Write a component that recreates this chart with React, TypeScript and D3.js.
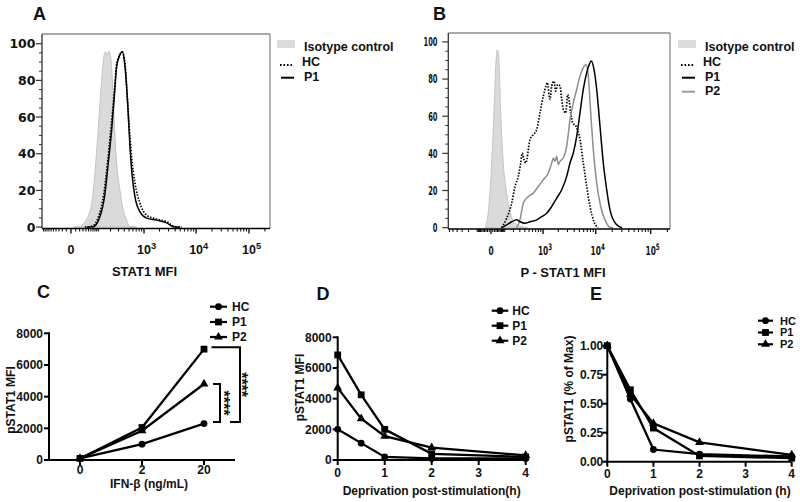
import React from "react";
import * as d3 from "d3";

const ARIAL = "'Liberation Sans', Arial, Helvetica, sans-serif";
const DEJA = "'DejaVu Sans', 'Liberation Sans', sans-serif";

// ---------- Panel A: STAT1 histograms (MFI value, % of max) ----------
const aIsoMfi = [5, 16, 36, 64, 80, 99, 122, 142, 156, 168, 184, 205, 224, 243, 274, 323, 380, 447, 523, 715];
const aIsoCnt = [0, 0, 2.7, 13, 29.5, 53, 80, 94, 95.6, 94, 96, 91, 76.5, 57, 35, 20, 9.3, 3.8, 0.2, 0];
const aHCMfi = [36.5, 65, 104, 140, 170, 205, 240, 272, 308, 362, 413, 483, 566, 661, 832, 1128, 1766, 2751, 3967, 5320];
const aHCCnt = [0, 0.5, 6.5, 19, 35, 54, 72, 88, 93, 95.5, 89, 62, 38, 24, 13, 6.5, 4.4, 2.9, 0.2, 0];
const aP1Mfi = [43, 71, 110, 148, 177, 212, 243, 274, 312, 362, 413, 469, 523, 583, 661, 832, 1128, 1766, 2751, 3680, 4940];
const aP1Cnt = [0, 0.2, 5.6, 18.5, 35, 53, 71, 87.5, 93, 95.6, 87.5, 67.6, 43.8, 27.4, 16.5, 8.3, 4.9, 3.8, 2.3, 0.2, 0];

// ---------- Panel B: P-STAT1 histograms ----------
const bIsoMfi = [-35, -14, 4, 17, 30, 39, 51, 64, 86, 119, 156, 222, 335, 474];
const bIsoCnt = [0, 9.6, 34.8, 62, 88.9, 95.7, 88.9, 61.8, 34.8, 18.6, 8.6, 2.4, 0.6, 0];
const bHCMfi = [72, 119, 177, 222, 273, 316, 346, 381, 419, 526, 623, 737, 865, 1011, 1147, 1218, 1378, 1489, 1651, 1783,
  1948, 2158, 2326, 2495, 2771, 3023, 3240, 3443, 3753, 4324, 5130, 5908, 6826, 7852, 9300, 11140];
const bHCCnt = [0, 5.1, 13.2, 22.2, 27.6, 34.8, 40.2, 36.6, 34.8, 47.4, 50.1, 52.8, 61.8, 70.8, 76.2, 78.1, 69, 76.2, 78.9, 73.5,
  77.1, 76.2, 69, 63.6, 61.8, 71.7, 68.1, 61.8, 56.4, 54.6, 47.4, 34.8, 22.2, 11.4, 3.2, 0];
const bP2Mfi = [247, 303, 367, 481, 623, 797, 1011, 1275, 1489, 1601, 1727, 1864, 2001, 2158, 2495, 2894, 3340, 3851, 4456, 5130,
  5908, 6627, 7308, 8090, 9030, 10420, 12330, 14780, 18230, 20950];
const bP2Cnt = [0, 4.2, 13.2, 16.8, 18.6, 22.2, 25.8, 29.4, 34.8, 37.5, 35.7, 38.4, 33.9, 35.7, 37.5, 43.8, 58.2, 67.2, 74.4, 81.6,
  86.2, 87.9, 81.6, 61.8, 42, 24, 11.4, 4.2, 0.2, 0];
const bP1Mfi = [72, 119, 177, 247, 303, 403, 526, 737, 938, 1184, 1489, 1864, 2326, 2894, 3340, 3851, 4456, 5130, 5908, 6826,
  7624, 8300, 9300, 10420, 11980, 13760, 15880, 18230, 23450, 30150];
const bP1Cnt = [0, 1.5, 3.2, 4.2, 3.2, 2.4, 3.2, 4.2, 5.9, 7.8, 11.4, 15.9, 20.4, 27.6, 34.8, 40.2, 49.2, 61.8, 74.4, 83.5,
  87.9, 89.7, 85.2, 74.4, 54.6, 34.8, 20.4, 9.6, 2, 0];

const histYTicks = [0, 20, 40, 60, 80, 100];
const histXMajor = [0, 1000, 10000, 100000];
const histXExp = ["", "3", "4", "5"];

// ---------- Panel C ----------
const cDoses = ["0", "2", "20"];
const cHC = [100, 1000, 2300];
const cP1 = [100, 2050, 7000];
const cP2 = [100, 1850, 4800];
const cYTicks = [0, 2000, 4000, 6000, 8000];

// ---------- Panel D ----------
const dTimes = [0, 0.5, 1, 2, 4];
const dHC = [2000, 1100, 200, 100, 100];
const dP1 = [6850, 4250, 2000, 400, 200];
const dP2 = [4700, 2700, 1550, 800, 300];
const dYTicks = [0, 2000, 4000, 6000, 8000];
const timeTicks = [0, 1, 2, 3, 4];

// ---------- Panel E ----------
const eHC = [1, 0.54, 0.105, 0.065, 0.045];
const eP1 = [1, 0.62, 0.29, 0.05, 0.03];
const eP2 = [1, 0.58, 0.33, 0.167, 0.058];
const eYTicks = [0, 0.25, 0.5, 0.75, 1];

const seriesNames = ["HC", "P1", "P2"];
const markerKinds = ["circle", "square", "triangle"];

function histPath(xs: any, ys: any, mfi: number[], cnt: number[]) {
  return d3.line<number>().x((i) => xs(mfi[i])).y((i) => ys(cnt[i])).curve(d3.curveMonotoneX)(d3.range(mfi.length)) || "";
}
function histArea(xs: any, ys: any, mfi: number[], cnt: number[]) {
  return d3.area<number>().x((i) => xs(mfi[i])).y0(ys(0)).y1((i) => ys(cnt[i])).curve(d3.curveMonotoneX)(d3.range(mfi.length)) || "";
}
function minorTicks(lo: number, hi: number) {
  const out: number[] = [];
  [10, 100, 1000, 10000, 100000].forEach((dec) => {
    for (let m = 1; m <= 9; m++) {
      const v = m * dec;
      if (v <= hi && !histXMajor.includes(v)) out.push(v);
      if (-v >= lo) out.push(-v);
    }
  });
  return out;
}

type HistProps = {
  xs: any; ys: any; l: number; r: number; t: number; b: number;
  ylab: { font: string; size: number; sx: number; end: number };
  xlab: { font: string; size: number; sx: number; base: number; w10: number };
  title: string; titleX: number; titleY: number;
};

function HistFrame(p: HistProps) {
  const [lo, hi] = p.xs.domain();
  const minors = minorTicks(lo, hi);
  const yMinor = d3.range(0, 101, 5).filter((v) => v % 20 !== 0);
  return (
    <g>
      <line x1={p.l} x2={p.r} y1={p.t} y2={p.t} stroke="#8c8c8c" strokeWidth={1.3} />
      <line x1={p.r} x2={p.r} y1={p.t} y2={p.b} stroke="#8c8c8c" strokeWidth={1.3} />
      <line x1={p.l} x2={p.l} y1={p.t} y2={p.b} stroke="#333" strokeWidth={1.3} />
      <line x1={p.l} x2={p.r} y1={p.b} y2={p.b} stroke="#000" strokeWidth={1.6} />
      {yMinor.map((v) => (
        <line key={"ym" + v} x1={p.l - 3} x2={p.l} y1={p.ys(v)} y2={p.ys(v)} stroke="#333" strokeWidth={1} />
      ))}
      {histYTicks.map((v) => (
        <g key={"yt" + v}>
          <line x1={p.l - 6} x2={p.l} y1={p.ys(v)} y2={p.ys(v)} stroke="#333" strokeWidth={1.2} />
          <g transform={`translate(${p.ylab.end},${p.ys(v) + p.ylab.size * 0.36}) scale(${p.ylab.sx},1)`}>
            <text textAnchor="end" fontFamily={p.ylab.font} fontWeight="bold" fontSize={p.ylab.size} fill="#111">{v}</text>
          </g>
        </g>
      ))}
      {minors.map((v) => (
        <line key={"xm" + v} x1={p.xs(v)} x2={p.xs(v)} y1={p.b} y2={p.b + 3} stroke="#000" strokeWidth={1} />
      ))}
      {histXMajor.map((v, i) => (
        <g key={"xt" + v}>
          <line x1={p.xs(v)} x2={p.xs(v)} y1={p.b} y2={p.b + 5} stroke="#000" strokeWidth={1.3} />
          <g transform={`translate(${p.xs(v)},${p.xlab.base}) scale(${p.xlab.sx},1)`}>
            {v === 0 ? (
              <text textAnchor="middle" fontFamily={p.xlab.font} fontWeight="bold" fontSize={p.xlab.size} fill="#111">0</text>
            ) : (
              <text x={-p.xlab.w10 / 2} fontFamily={p.xlab.font} fontWeight="bold" fontSize={p.xlab.size} fill="#111">
                10<tspan dy={-5} fontSize={p.xlab.size * 0.75}>{histXExp[i]}</tspan>
              </text>
            )}
          </g>
        </g>
      ))}
      <text x={p.titleX} y={p.titleY} textAnchor="middle" fontFamily={ARIAL} fontWeight="bold" fontSize={13} fill="#111">{p.title}</text>
    </g>
  );
}

function HistLegend({ x, y, names }: { x: number; y: number; names: string[] }) {
  const txt = { fontFamily: ARIAL, fontWeight: "bold" as const, fontSize: 12.5, fill: "#111" };
  return (
    <g>
      <rect x={x} y={y} width={18} height={8} fill="#dcdcdc" />
      <text x={x + 27} y={y + 10.5} {...txt}>Isotype control</text>
      <line x1={x + 3} x2={x + 17} y1={y + 25} y2={y + 25} stroke="#000" strokeWidth={2} strokeDasharray="1.6,1.9" />
      <text x={x + 25} y={y + 26} {...txt}>{names[0]}</text>
      <line x1={x + 4} x2={x + 17} y1={y + 37.7} y2={y + 37.7} stroke="#000" strokeWidth={2} />
      <text x={x + 27} y={y + 41} {...txt}>{names[1]}</text>
      {names[2] && (
        <>
          <line x1={x + 4} x2={x + 17} y1={y + 51.7} y2={y + 51.7} stroke="#9a9a9a" strokeWidth={2} />
          <text x={x + 27} y={y + 55.3} {...txt}>{names[2]}</text>
        </>
      )}
    </g>
  );
}

function PanelA() {
  const xs = d3.scaleSymlog().constant(43.6).domain([-110, 249500]).range([42, 270]);
  const ys = d3.scaleLinear().domain([-0.5, 105.3]).range([228, 34]);
  return (
    <g>
      <text x={33} y={20} fontFamily={ARIAL} fontWeight="bold" fontSize={18} fill="#111">A</text>
      <path d={histArea(xs, ys, aIsoMfi, aIsoCnt)} fill="#dadada" stroke="#c4c4c4" strokeWidth={1} />
      <path d={histPath(xs, ys, aHCMfi, aHCCnt)} fill="none" stroke="#000" strokeWidth={1.7} strokeDasharray="1.5,1.5" />
      <path d={histPath(xs, ys, aP1Mfi, aP1Cnt)} fill="none" stroke="#000" strokeWidth={1.5} />
      <HistFrame xs={xs} ys={ys} l={42} r={270} t={34} b={228.5}
        ylab={{ font: DEJA, size: 12.5, sx: 1, end: 35.5 }}
        xlab={{ font: ARIAL, size: 12.5, sx: 1, base: 253.5, w10: 13.9 }}
        title="STAT1 MFI" titleX={144.5} titleY={275.5} />
      <HistLegend x={277} y={40} names={["HC", "P1"]} />
    </g>
  );
}

function PanelB() {
  const xs = d3.scaleSymlog().constant(129).domain([-635, 223500]).range([448.3, 670]);
  const ys = d3.scaleLinear().domain([-0.5, 104.8]).range([228.6, 33]);
  return (
    <g>
      <text x={433} y={20} fontFamily={ARIAL} fontWeight="bold" fontSize={18} fill="#111">B</text>
      <path d={histArea(xs, ys, bIsoMfi, bIsoCnt)} fill="#dadada" stroke="#c4c4c4" strokeWidth={1} />
      <path d={histPath(xs, ys, bHCMfi, bHCCnt)} fill="none" stroke="#000" strokeWidth={1.7} strokeDasharray="1.5,1.5" />
      <path d={histPath(xs, ys, bP2Mfi, bP2Cnt)} fill="none" stroke="#8e8e8e" strokeWidth={1.5} />
      <path d={histPath(xs, ys, bP1Mfi, bP1Cnt)} fill="none" stroke="#000" strokeWidth={1.5} />
      <HistFrame xs={xs} ys={ys} l={448.3} r={670} t={33} b={229}
        ylab={{ font: DEJA, size: 12, sx: 0.56, end: 437.5 }}
        xlab={{ font: DEJA, size: 12, sx: 0.62, base: 255, w10: 16.7 }}
        title="P - STAT1 MFI" titleX={563} titleY={276.5} />
      <HistLegend x={678} y={40} names={["HC", "P1", "P2"]} />
    </g>
  );
}

function Marker({ kind, x, y }: { kind: string; x: number; y: number }) {
  if (kind === "circle") return <circle cx={x} cy={y} r={3.4} fill="#000" />;
  if (kind === "square") return <rect x={x - 3.4} y={y - 3.4} width={6.8} height={6.8} fill="#000" />;
  return <path d={d3.symbol().type(d3.symbolTriangle).size(34)() || ""} transform={`translate(${x},${y})`} fill="#000" />;
}

type LineProps = {
  letter: string; letterX: number; letterY: number;
  xs: any; ys: any; xVals: any[]; xTicks: any[]; xTickFmt: (v: any) => string; xTickBase: number;
  yTicks: number[]; yTickFmt: (v: number) => string; yLabGap: number;
  series: number[][];
  legend: { x0: number; x1: number; tx: number; rows: number[]; size: number };
  xTitle: string; xTitleX: number; xTitleY: number;
  yTitle: string; yTitleX: number; yTitleY: number;
};

function LinePanel(p: LineProps) {
  const [r0, r1] = p.xs.range();
  const axX = r0;
  const axY = p.ys(0);
  const yTop = p.ys(p.yTicks[p.yTicks.length - 1]);
  const txt = { fontFamily: ARIAL, fontWeight: "bold" as const, fontSize: 12, fill: "#111" };
  return (
    <g>
      <text x={p.letterX} y={p.letterY} fontFamily={ARIAL} fontWeight="bold" fontSize={18} fill="#111">{p.letter}</text>
      {p.series.map((vals, s) => {
        const d = d3.line<number>().x((i) => p.xs(p.xVals[i])).y((i) => p.ys(vals[i]))(d3.range(vals.length)) || "";
        return <path key={"l" + s} d={d} fill="none" stroke="#000" strokeWidth={2.3} />;
      })}
      {p.series.map((vals, s) =>
        vals.map((v, i) => <Marker key={"m" + s + "-" + i} kind={markerKinds[s]} x={p.xs(p.xVals[i])} y={p.ys(v)} />)
      )}
      <line x1={axX} x2={axX} y1={yTop - 1} y2={axY + 1} stroke="#000" strokeWidth={2} />
      <line x1={axX - 1} x2={r1} y1={axY} y2={axY} stroke="#000" strokeWidth={2} />
      {p.yTicks.map((v) => (
        <g key={"yt" + v}>
          <line x1={axX - 5} x2={axX} y1={p.ys(v)} y2={p.ys(v)} stroke="#000" strokeWidth={2} />
          <text x={axX - p.yLabGap} y={p.ys(v) + 4.3} textAnchor="end" {...txt}>{p.yTickFmt(v)}</text>
        </g>
      ))}
      {p.xTicks.map((v) => (
        <g key={"xt" + v}>
          <line x1={p.xs(v)} x2={p.xs(v)} y1={axY} y2={axY + 5} stroke="#000" strokeWidth={2} />
          <text x={p.xs(v)} y={p.xTickBase} textAnchor="middle" {...txt}>{p.xTickFmt(v)}</text>
        </g>
      ))}
      <text x={p.xTitleX} y={p.xTitleY} textAnchor="middle" {...txt}>{p.xTitle}</text>
      <text transform={`translate(${p.yTitleX},${p.yTitleY}) rotate(-90)`} textAnchor="middle" {...txt}>{p.yTitle}</text>
      {seriesNames.map((n, s) => {
        const yy = p.legend.rows[s];
        return (
          <g key={"lg" + n}>
            <line x1={p.legend.x0} x2={p.legend.x1} y1={yy} y2={yy} stroke="#000" strokeWidth={2.2} />
            <Marker kind={markerKinds[s]} x={(p.legend.x0 + p.legend.x1) / 2} y={yy} />
            <text x={p.legend.tx} y={yy + p.legend.size * 0.36} fontFamily={ARIAL} fontWeight="bold" fontSize={p.legend.size} fill="#111">{n}</text>
          </g>
        );
      })}
    </g>
  );
}

function PanelC() {
  const xs = d3.scalePoint<string>().domain(cDoses).range([49, 235]).padding(0.5);
  const ys = d3.scaleLinear().domain([0, 8000]).range([460, 333.3]);
  const x20 = xs("20") as number;
  const yP1 = ys(cP1[2]) - 2;
  const yP2 = ys(cP2[2]);
  const yHC = ys(cHC[2]) - 1.5;
  const br = { stroke: "#000", strokeWidth: 2, fill: "none" };
  const stars = { fontFamily: ARIAL, fontWeight: "bold" as const, fontSize: 16, fill: "#111" };
  return (
    <g>
      <LinePanel letter="C" letterX={37} letterY={298} xs={xs} ys={ys} xVals={cDoses} xTicks={cDoses} xTickFmt={(v) => v} xTickBase={474}
        yTicks={cYTicks} yTickFmt={(v) => String(v)} yLabGap={6}
        series={[cHC, cP1, cP2]}
        legend={{ x0: 210, x1: 227, tx: 232, rows: [306.7, 322, 337], size: 12 }}
        xTitle="IFN-β (ng/mL)" xTitleX={149} xTitleY={488}
        yTitle="pSTAT1 MFI" yTitleX={15} yTitleY={400} />
      <path d={`M${x20 + 7.5},${yP1} H${x20 + 36} V${yHC} H${x20 + 26}`} {...br} />
      <path d={`M${x20 + 9},${yP2} H${x20 + 16} V${yHC} H${x20 + 9}`} {...br} />
      <text transform={`translate(${x20 + 32.4},${(yP1 + yHC) / 2}) rotate(90)`} textAnchor="middle" {...stars}>****</text>
      <text transform={`translate(${x20 + 14.1},${(yP2 + yHC) / 2}) rotate(90)`} textAnchor="middle" {...stars}>****</text>
    </g>
  );
}

function PanelD() {
  const xs = d3.scaleLinear().domain([0, 4]).range([337.7, 525.7]);
  const ys = d3.scaleLinear().domain([0, 8000]).range([460, 337.3]);
  return (
    <LinePanel letter="D" letterX={316.5} letterY={300} xs={xs} ys={ys} xVals={dTimes} xTicks={timeTicks} xTickFmt={(v) => String(v)} xTickBase={477}
      yTicks={dYTicks} yTickFmt={(v) => String(v)} yLabGap={6}
      series={[dHC, dP1, dP2]}
      legend={{ x0: 491.7, x1: 508.3, tx: 512.3, rows: [310.7, 325.7, 340.7], size: 12 }}
      xTitle="Deprivation post-stimulation(h)" xTitleX={431.7} xTitleY={495}
      yTitle="pSTAT1 MFI" yTitleX={304} yTitleY={387.5} />
  );
}

function PanelE() {
  const xs = d3.scaleLinear().domain([0, 4]).range([607.3, 791.7]);
  const ys = d3.scaleLinear().domain([0, 1]).range([461.7, 345.7]);
  return (
    <LinePanel letter="E" letterX={590} letterY={300} xs={xs} ys={ys} xVals={dTimes} xTicks={timeTicks} xTickFmt={(v) => String(v)} xTickBase={478}
      yTicks={eYTicks} yTickFmt={d3.format(".2f")} yLabGap={4}
      series={[eHC, eP1, eP2]}
      legend={{ x0: 758, x1: 773, tx: 780, rows: [320.7, 332.5, 344.3], size: 11 }}
      xTitle="Deprivation post-stimulation (h)" xTitleX={700} xTitleY={495}
      yTitle="pSTAT1 (% of Max)" yTitleX={573} yTitleY={389} />
  );
}

export default function App() {
  return (
    <svg width={800} height={502} viewBox="0 0 800 502" style={{ position: "absolute", left: 0, top: 0, display: "block", background: "#fff" }}>
      <rect width={800} height={502} fill="#fff" />
      <PanelA />
      <PanelB />
      <PanelC />
      <PanelD />
      <PanelE />
    </svg>
  );
}
